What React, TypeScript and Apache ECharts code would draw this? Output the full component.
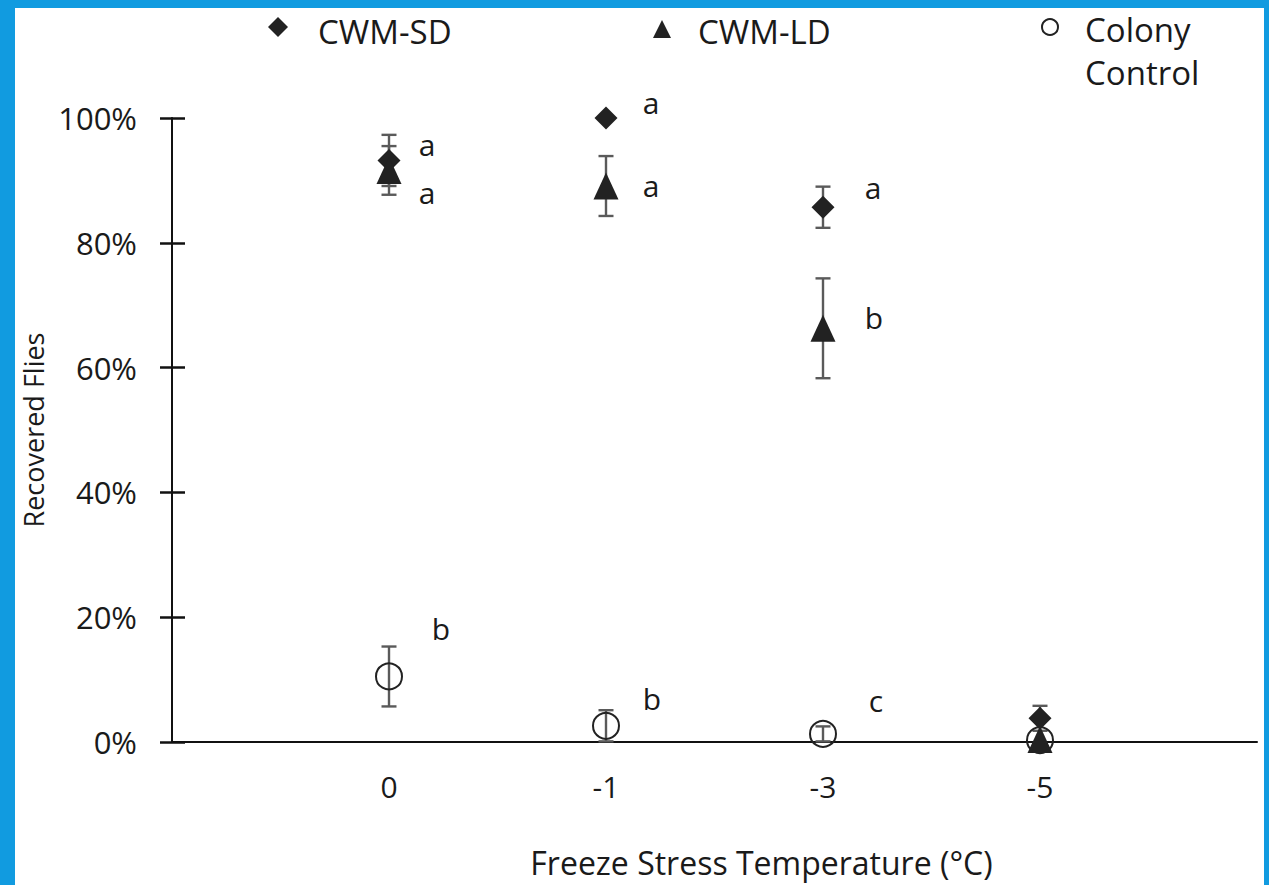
import React, { useEffect, useRef } from 'react';
import * as echarts from 'echarts';

// Freeze stress temperatures (°C), plotted at positions 1..4
const temperatures = ['0', '-1', '-3', '-5'];

// CWM-SD (diamond)
const sdMean = [93.2, 100, 85.7, 3.8];
const sdErr = [4.1, 0, 3.3, 2.0];
const sdLetters = ['a', 'a', 'a', ''];

// CWM-LD (triangle)
const ldMean = [91.6, 89.1, 66.3, 0.4];
const ldErr = [3.9, 4.8, 8.0, 0];
const ldLetters = ['a', 'a', 'b', ''];

// Colony Control (open circle)
const ccMean = [10.5, 2.6, 1.3, 0.3];
const ccErr = [4.8, 2.5, 1.2, 0];
const ccLetters = ['b', 'b', 'c', ''];

// Significance letter placement relative to each marker (px)
const sdLetterOffset = [[38, -16], [45, -16], [50, -20], [0, 0]];
const ldLetterOffset = [[38, 22], [45, -1], [51, -11], [0, 0]];
const ccLetterOffset = [[52, -48], [46, -27], [53, -33], [0, 0]];

const FONT = '"Open Sans", "Noto Sans", sans-serif';
const INK = '#1a1a1a';
const BLUE = '#119be0';

function errorBars(means: number[], errs: number[]) {
  return {
    type: 'custom',
    z: 1,
    silent: true,
    data: means
      .map((m, i) => [i + 1, m - errs[i], m + errs[i], errs[i]])
      .filter((d) => d[3] > 0),
    encode: { x: 0, y: [1, 2] },
    renderItem: (_params: any, api: any) => {
      const x = api.value(0);
      const lo = api.coord([x, api.value(1)]);
      const hi = api.coord([x, api.value(2)]);
      const w = 7.5;
      const style = { stroke: '#5a5a5a', lineWidth: 2.4 };
      return {
        type: 'group',
        children: [
          { type: 'line', shape: { x1: hi[0], y1: hi[1], x2: lo[0], y2: lo[1] }, style },
          { type: 'line', shape: { x1: hi[0] - w, y1: hi[1], x2: hi[0] + w, y2: hi[1] }, style },
          { type: 'line', shape: { x1: lo[0] - w, y1: lo[1], x2: lo[0] + w, y2: lo[1] }, style },
        ],
      };
    },
  };
}

function points(means: number[], letters: string[], offsets: number[][]) {
  return means.map((m, i) => ({
    value: [i + 1, m],
    label: {
      show: letters[i] !== '',
      formatter: letters[i],
      position: 'inside',
      offset: offsets[i],
      fontSize: 30,
      fontFamily: FONT,
      color: INK,
    },
  }));
}

export default function App() {
  const ref = useRef<HTMLDivElement>(null);

  useEffect(() => {
    if (!ref.current) return;
    const chart = echarts.init(ref.current, undefined, { renderer: 'svg' });

    const legendText = (x: number, y: number, text: string) => ({
      type: 'text',
      x,
      y,
      style: {
        text,
        fontSize: 33,
        fontFamily: FONT,
        fill: INK,
        verticalAlign: 'middle',
        align: 'left',
      },
    });

    chart.setOption({
      animation: false,
      backgroundColor: '#ffffff',
      grid: { left: 172, right: 12, top: 118, bottom: 143 },
      xAxis: {
        type: 'value',
        min: 0,
        max: 5,
        interval: 1,
        name: 'Freeze Stress Temperature (°C)',
        nameLocation: 'middle',
        nameGap: 104,
        nameTextStyle: { fontSize: 32, fontFamily: FONT, color: INK, padding: [0, 0, 0, 94] },
        axisLine: { show: true, onZero: false, lineStyle: { color: '#111', width: 2 } },
        axisTick: { show: false },
        splitLine: { show: false },
        axisLabel: {
          fontSize: 30,
          fontFamily: FONT,
          color: INK,
          margin: 29,
          formatter: (v: number) => temperatures[v - 1] ?? '',
        },
      },
      yAxis: [
        {
          type: 'value',
          min: 0,
          max: 100,
          interval: 20,
          name: 'Recovered Flies',
          nameLocation: 'middle',
          nameGap: 122,
          nameTextStyle: { fontSize: 27, fontFamily: FONT, color: INK },
          axisLine: { show: true, lineStyle: { color: '#111', width: 2 } },
          axisTick: { show: true, length: 12, lineStyle: { color: '#111', width: 2.5 } },
          splitLine: { show: false },
          axisLabel: {
            fontSize: 31,
            fontFamily: FONT,
            color: INK,
            margin: 35,
            formatter: '{value}%',
          },
        },
        {
          type: 'value',
          min: 0,
          max: 100,
          interval: 20,
          position: 'left',
          axisLine: { show: false },
          axisTick: { show: true, inside: true, length: 13, lineStyle: { color: '#111', width: 2.5 } },
          axisLabel: { show: false },
          splitLine: { show: false },
        },
      ],
      series: [
        errorBars(sdMean, sdErr),
        errorBars(ldMean, ldErr),
        errorBars(ccMean, ccErr),
        {
          name: 'CWM-SD',
          type: 'scatter',
          z: 3,
          symbol: 'diamond',
          symbolSize: 23,
          itemStyle: { color: '#222', opacity: 1 },
          data: points(sdMean, sdLetters, sdLetterOffset),
        },
        {
          name: 'CWM-LD',
          type: 'scatter',
          z: 3,
          symbol: 'triangle',
          symbolSize: [25, 27],
          itemStyle: { color: '#222', opacity: 1 },
          data: points(ldMean, ldLetters, ldLetterOffset),
        },
        {
          name: 'Colony Control',
          type: 'scatter',
          z: 4,
          symbol: 'circle',
          symbolSize: 26,
          itemStyle: { color: 'transparent', borderColor: '#222', borderWidth: 2, opacity: 1 },
          data: points(ccMean, ccLetters, ccLetterOffset),
        },
      ],
      graphic: [
        // frame
        { type: 'rect', shape: { x: 0, y: 0, width: 1269, height: 8 }, style: { fill: BLUE }, silent: true },
        { type: 'rect', shape: { x: 0, y: 0, width: 15, height: 885 }, style: { fill: BLUE }, silent: true },
        { type: 'rect', shape: { x: 1264, y: 0, width: 5, height: 885 }, style: { fill: BLUE }, silent: true },
        // legend
        {
          type: 'polygon',
          shape: { points: [[278, 17], [288, 27], [278, 37], [268, 27]] },
          style: { fill: '#222' },
        },
        legendText(318, 31, 'CWM-SD'),
        {
          type: 'polygon',
          shape: { points: [[662, 20], [671, 38], [653, 38]] },
          style: { fill: '#222' },
        },
        legendText(698, 31, 'CWM-LD'),
        {
          type: 'circle',
          shape: { cx: 1050, cy: 27, r: 8 },
          style: { fill: 'none', stroke: '#222', lineWidth: 2 },
        },
        legendText(1085, 29, 'Colony'),
        legendText(1085, 72, 'Control'),
      ],
    });

    return () => chart.dispose();
  }, []);

  return (
    <div
      ref={ref}
      style={{ position: 'fixed', left: 0, top: 0, width: 1269, height: 885, background: '#fff' }}
    />
  );
}
